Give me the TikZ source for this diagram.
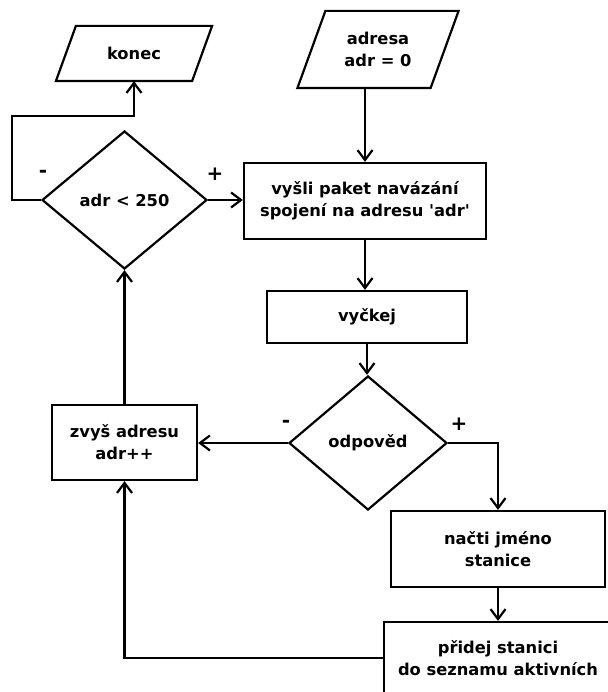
\documentclass[tikz,border=0pt]{standalone}
\usepackage{fontspec}
\newfontfamily\dvb{DejaVu Sans}
\usetikzlibrary{shapes.geometric,arrows.meta}
\begin{document}
\begin{tikzpicture}[x=1pt,y=-1pt,
  line width=2.2pt,
  every node/.style={font=\dvb\bfseries\fontsize{16.3}{22}\selectfont, align=center, inner sep=0pt},
  arr/.style={-{Straight Barb[length=10pt,width=15pt]}},
  boxnode/.style={draw, rectangle, minimum width=#1},
  io/.style={rectangle},
  dec/.style={draw, diamond},
  sign/.style={font=\dvb\bfseries\fontsize{20}{22}\selectfont}
]
\useasboundingbox (0,0) rectangle (607,692);
% I/O nodes (parallelograms)
\node[io, minimum width=134pt, minimum height=53pt] (k) at (134,53.5) {konec};
\draw ([xshift=10pt]k.north west) -- ([xshift=10pt]k.north east) -- ([xshift=-10pt]k.south east) -- ([xshift=-10pt]k.south west) -- cycle;
\node[io, minimum width=131pt, minimum height=75pt] (a) at (378,49.5) {adresa\\adr = 0};
\draw ([xshift=14pt]a.north west) -- ([xshift=14pt]a.north east) -- ([xshift=-14pt]a.south east) -- ([xshift=-14pt]a.south west) -- cycle;
% decisions
\node[dec, minimum width=165pt, minimum height=138pt] (d1) at (124.5,200) {adr < 250};
\node[dec, minimum width=158pt, minimum height=134pt] (d2) at (368,443) {odpověd};
% process boxes
\node[boxnode=242pt, minimum height=76pt] (b1) at (365,201) {vyšli paket navázání\\spojení na adresu 'adr'};
\node[boxnode=200pt, minimum height=52pt] (b2) at (367,317) {vyčkej};
\node[boxnode=145pt, minimum height=75pt] (b3) at (124.5,442.5) {zvyš adresu\\adr++};
\node[boxnode=214pt, minimum height=76pt] (b4) at (498,549) {načti jméno\\stanice};
\node[boxnode=228pt, minimum height=72pt] (b5) at (498,658) {přidej stanici\\do seznamu aktivních};
% signs
\node[sign] (m1) at (43,174) {-};
\node[sign] (p1) at (215,174) {+};
\node[sign] (m2) at (286,424) {-};
\node[sign] (p2) at (459,424) {+};
% connectors
\coordinate (lp) at (12,116);
\draw[arr] (d1.west) -| (lp) -| (k.south);
\draw[arr] (d1.east) -- (d1.east -| b1.west);
\draw[arr] (b1.north |- a.south) -- (b1.north);
\draw[arr] (b1.south) -- (b1.south |- b2.north);
\draw[arr] (b2.south) -- (b2.south |- d2.north);
\draw[arr] (d2.west) -- (d2.west -| b3.east);
\draw[arr] (d2.east) -| (b4.north);
\draw[arr] (b4.south) -- (b5.north);
\draw[arr] (b5.west) -| (b3.south);
\draw[arr] (b3.north) -- (d1.south);
\end{tikzpicture}
\end{document}
